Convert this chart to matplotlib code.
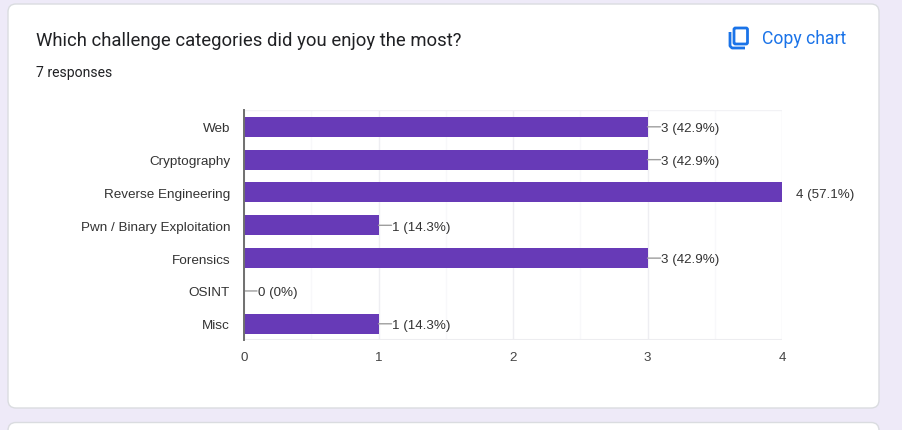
import matplotlib
matplotlib.use("Agg")
import matplotlib.pyplot as plt
from matplotlib.patches import FancyBboxPatch

categories = ["Web", "Cryptography", "Reverse Engineering", "Pwn / Binary Exploitation",
              "Forensics", "OSINT", "Misc"]
counts = [3, 3, 4, 1, 3, 0, 1]
labels = ["3 (42.9%)", "3 (42.9%)", "4 (57.1%)", "1 (14.3%)", "3 (42.9%)", "0 (0%)", "1 (14.3%)"]
x_ticks = [0, 1, 2, 3, 4]
title = "Which challenge categories did you enjoy the most?"
subtitle = "7 responses"

W, H = 902, 431
fig = plt.figure(figsize=(W / 100, H / 100), dpi=100, facecolor="#EEEAF8")

bg = fig.add_axes([0, 0, 1, 1])
bg.set_xlim(0, W)
bg.set_ylim(H, 0)
bg.axis("off")
for (x0, y0, x1, y1) in [(8, 5, 879, 409), (8, 423.5, 879, 470)]:
    bg.add_patch(FancyBboxPatch((x0, y0), x1 - x0, y1 - y0,
                                boxstyle="round,pad=0,rounding_size=8",
                                linewidth=1, edgecolor="#DADCE0", facecolor="white"))

bg.text(36, 41, title, family="Roboto", fontsize=13.3, color="#202124", va="center", ha="left")
bg.text(36, 73.5, subtitle, family="Roboto", fontsize=10.1, color="#202124", va="center", ha="left")
bg.text(762, 39, "Copy chart", family="Roboto", fontsize=12.7, color="#1A73E8", va="center", ha="left")

# copy icon
blue = "#1A73E8"
bg.add_patch(FancyBboxPatch((734, 29), 13.5, 16, boxstyle="round,pad=0,rounding_size=1.5",
                            linewidth=2, edgecolor=blue, facecolor="none"))
bg.plot([730, 730, 732, 745], [33, 47, 49, 49], color=blue, lw=2, solid_capstyle="butt")

px_left, px_right, px_top, px_bottom = 244, 782, 111.4, 341.2
ax = fig.add_axes([px_left / W, 1 - px_bottom / H, (px_right - px_left) / W, (px_bottom - px_top) / H])
ax.set_xlim(0, 4)
ax.set_ylim(len(categories) - 0.5, -0.5)
ax.set_facecolor("none")

ax.set_axisbelow(True)
ax.set_xticks(x_ticks)
ax.set_xticks([0.5, 1.5, 2.5, 3.5], minor=True)
ax.grid(True, axis="x", which="major", color="#EEEEF2", lw=1)
ax.grid(True, axis="x", which="minor", color="#F8F8FA", lw=1)
ax.axhline(-0.5, color="#F2F2F5", lw=1)
ax.axhline(len(categories) - 0.5, color="#EDEDF0", lw=1.5)

ypos = list(range(len(categories)))
ax.barh(ypos, counts, height=20 / 32.83, color="#673AB7", linewidth=0, zorder=2)

for y, c, lab in zip(ypos, counts, labels):
    if c < max(counts):
        ax.annotate("", xy=(c, y), xytext=(13, 0), textcoords="offset pixels",
                    arrowprops=dict(arrowstyle="-", color="#9E9E9E", lw=1, shrinkA=0, shrinkB=0))
    ax.annotate(lab, xy=(c, y), xytext=(13.5, 0.3), textcoords="offset pixels",
                va="center_baseline", ha="left", family="Liberation Sans", fontsize=9.6,
                color="#333333", annotation_clip=False)

ax.set_yticks(ypos)
ax.set_yticklabels(categories, family="Liberation Sans", fontsize=9.7, color="#333333")
ax.tick_params(axis="y", length=0, pad=10)
ax.tick_params(axis="x", which="both", length=0, pad=8)
for t in ax.get_xticklabels():
    t.set_family("Liberation Sans")
    t.set_fontsize(9.6)
    t.set_color("#444444")
for s in ["top", "right", "bottom"]:
    ax.spines[s].set_visible(False)
ax.spines["left"].set_color("#6F6F6F")
ax.spines["left"].set_linewidth(1.4)
ax.spines["left"].set_zorder(5)

fig.savefig("out.png", dpi=100, facecolor=fig.get_facecolor())
